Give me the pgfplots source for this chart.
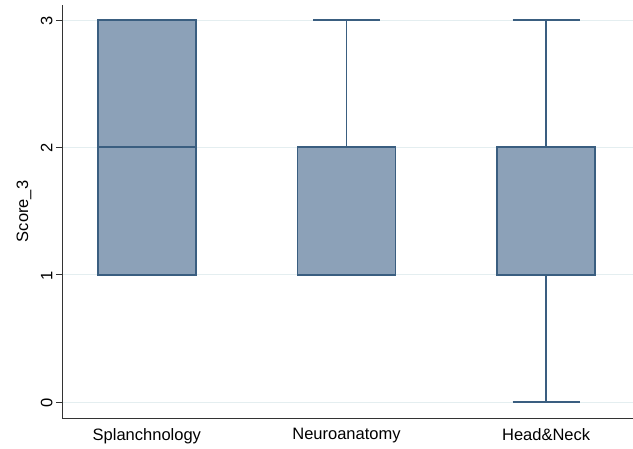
\documentclass[border=0pt]{standalone}
\usepackage{fontspec}
\setmainfont{Liberation Sans}
\usepackage{pgfplots}
\pgfplotsset{compat=1.18}
\usepgfplotslibrary{statistics}

\definecolor{boxfill}{RGB}{140,161,184}
\definecolor{boxedge}{RGB}{58,94,128}
\definecolor{gridc}{RGB}{228,238,240}

\begin{document}
\begin{tikzpicture}[x=1pt,y=1pt]
\path[use as bounding box] (0,0) rectangle (633,448);
\begin{axis}[
  at={(62pt,30pt)}, anchor=south west,
  scale only axis,
  width=571pt, height=413pt,
  xmin=-0.425, xmax=2.435,
  ymin=-0.126, ymax=3.118,
  axis x line*=bottom, axis y line*=left,
  axis line style={black!80, line width=0.9pt, -},
  xtick={0,1,2},
  xticklabels={Splanchnology,Neuroanatomy,Head\&Neck},
  xtick style={draw=none},
  ytick={0,1,2,3},
  /pgf/number format/assume math mode=true,
  tick align=outside,
  major tick length=6pt,
  ytick style={black!80, line width=0.9pt},
  ymajorgrids,
  grid style={gridc, line width=0.8pt},
  yticklabel style={rotate=90, anchor=south, xshift=-1pt, font=\fontsize{16.5}{19}\selectfont},
  xticklabel style={font=\fontsize{16.5}{19}\selectfont, yshift=-1pt},
  ylabel={Score\_3},
  ylabel style={font=\fontsize{16.5}{19}\selectfont, at={(axis description cs:-0.0665,0.5)}, anchor=center},
  boxplot/draw direction=y,
  boxplot/box extend=0.49,
  boxplot/whisker extend=0.335,
  every boxplot/.style={line width=1.8pt},
  clip=false,
]
\addplot+[boxplot prepared={draw position=0, lower whisker=1, lower quartile=1,
  median=2, upper quartile=3, upper whisker=3},
  draw=boxedge, fill=boxfill, line width=1.8pt, mark=none, solid] coordinates {};
\addplot+[boxplot prepared={draw position=1, lower whisker=1, lower quartile=1,
  median=2, upper quartile=2, upper whisker=3},
  draw=boxedge, fill=boxfill, line width=1.8pt, mark=none, solid] coordinates {};
\addplot+[boxplot prepared={draw position=2, lower whisker=0, lower quartile=1,
  median=2, upper quartile=2, upper whisker=3},
  draw=boxedge, fill=boxfill, line width=1.8pt, mark=none, solid] coordinates {};
\end{axis}
\end{tikzpicture}
\end{document}
